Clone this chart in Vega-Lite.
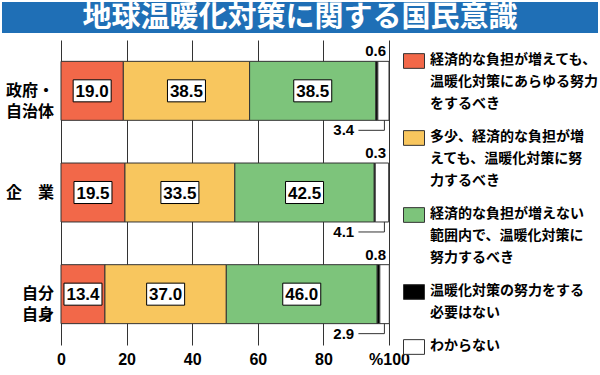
{
  "$schema": "https://vega.github.io/schema/vega-lite/v6.json",
  "padding": {"left": 2, "top": 2, "right": 0, "bottom": 2},
  "background": "white",
  "config": {"view": {"stroke": null}, "font": "Noto Sans CJK JP"},
  "datasets": {
    "shares": [
      {"row": "政府・|自治体", "cat": "経済的な負担が増えても、|温暖化対策にあらゆる努力|をするべき", "k": 1, "v": 19.0},
      {"row": "政府・|自治体", "cat": "多少、経済的な負担が増|えても、温暖化対策に努|力するべき", "k": 2, "v": 38.5},
      {"row": "政府・|自治体", "cat": "経済的な負担が増えない|範囲内で、温暖化対策に|努力するべき", "k": 3, "v": 38.5},
      {"row": "政府・|自治体", "cat": "温暖化対策の努力をする|必要はない", "k": 4, "v": 0.6},
      {"row": "政府・|自治体", "cat": "わからない", "k": 5, "v": 3.4},
      {"row": "企　業", "cat": "経済的な負担が増えても、|温暖化対策にあらゆる努力|をするべき", "k": 1, "v": 19.5},
      {"row": "企　業", "cat": "多少、経済的な負担が増|えても、温暖化対策に努|力するべき", "k": 2, "v": 33.5},
      {"row": "企　業", "cat": "経済的な負担が増えない|範囲内で、温暖化対策に|努力するべき", "k": 3, "v": 42.5},
      {"row": "企　業", "cat": "温暖化対策の努力をする|必要はない", "k": 4, "v": 0.3},
      {"row": "企　業", "cat": "わからない", "k": 5, "v": 4.1},
      {"row": "自分|自身", "cat": "経済的な負担が増えても、|温暖化対策にあらゆる努力|をするべき", "k": 1, "v": 13.4},
      {"row": "自分|自身", "cat": "多少、経済的な負担が増|えても、温暖化対策に努|力するべき", "k": 2, "v": 37.0},
      {"row": "自分|自身", "cat": "経済的な負担が増えない|範囲内で、温暖化対策に|努力するべき", "k": 3, "v": 46.0},
      {"row": "自分|自身", "cat": "温暖化対策の努力をする|必要はない", "k": 4, "v": 0.8},
      {"row": "自分|自身", "cat": "わからない", "k": 5, "v": 2.9}
    ]
  },
  "spacing": 7,
  "resolve": {"scale": {"color": "independent"}, "legend": {"color": "independent"}},
  "vconcat": [
    {
      "width": 596,
      "height": 31,
      "view": {"fill": "#1f6fb6", "stroke": null},
      "data": {"values": [{"t": "地球温暖化対策に関する国民意識"}]},
      "mark": {"type": "text", "font": "Noto Sans CJK JP", "fontWeight": "bold", "fontSize": 29, "color": "white", "baseline": "middle", "align": "center"},
      "encoding": {"text": {"field": "t", "type": "nominal"}}
    },
    {
      "spacing": 0,
      "bounds": "flush",
      "resolve": {"scale": {"color": "independent"}, "legend": {"color": "independent"}},
      "hconcat": [
        {
          "width": 59,
          "height": 305,
          "data": {"name": "shares"},
          "transform": [{"filter": "datum.k == 1"}],
          "mark": {"type": "text", "align": "right", "baseline": "middle", "dx": -7, "font": "Noto Sans CJK JP", "fontWeight": "bold", "fontSize": 16, "lineHeight": 21, "lineBreak": "|", "color": "black"},
          "encoding": {
            "x": {"value": "width"},
            "y": {
              "field": "row", "type": "nominal",
              "sort": ["政府・|自治体", "企　業", "自分|自身"],
              "scale": {"paddingInner": 0.42, "paddingOuter": 0.21},
              "axis": null
            },
            "text": {"field": "row", "type": "nominal"}
          }
        },
        {
          "width": 328,
          "height": 305,
          "data": {"name": "shares"},
          "encoding": {
            "y": {
              "field": "row", "type": "nominal",
              "sort": ["政府・|自治体", "企　業", "自分|自身"],
              "scale": {"paddingInner": 0.42, "paddingOuter": 0.21},
              "axis": null
            }
          },
          "layer": [
            {
              "mark": {"type": "bar", "stroke": "#333", "strokeWidth": 1},
              "encoding": {
                "x": {
                  "field": "v", "type": "quantitative", "stack": "zero",
                  "scale": {"domain": [0, 100], "nice": false},
                  "axis": {
                    "title": null, "values": [0, 20, 40, 60, 80, 100],
                    "grid": true, "gridColor": "#333", "gridOpacity": 1, "gridWidth": 1,
                    "domain": false, "ticks": false, "labelFlush": false,
                    "labelFont": "Liberation Sans", "labelFontWeight": "bold", "labelFontSize": 16,
                    "labelColor": "black", "labelPadding": 6,
                    "labelExpr": "datum.value == 100 ? '%100\u2002\u2002' : datum.label"
                  }
                },
                "color": {
                  "field": "cat", "type": "nominal",
                  "scale": {
                    "domain": [
                      "経済的な負担が増えても、|温暖化対策にあらゆる努力|をするべき",
                      "多少、経済的な負担が増|えても、温暖化対策に努|力するべき",
                      "経済的な負担が増えない|範囲内で、温暖化対策に|努力するべき",
                      "温暖化対策の努力をする|必要はない",
                      "わからない"
                    ],
                    "range": ["#F26849", "#F8C65E", "#7DC47B", "#000000", "#ffffff"]
                  },
                  "legend": {
                    "title": null, "orient": "right", "offset": 4, "padding": 10, "rowPadding": 16,
                    "labelFont": "Noto Sans CJK JP", "labelFontWeight": "bold", "labelFontSize": 14,
                    "labelColor": "black", "labelLimit": 0, "labelOffset": 5, "labelBaseline": "top",
                    "labelExpr": "split(datum.label, '|')",
                    "symbolType": "M-1,-0.7L1,-0.7L1,0.7L-1,0.7Z", "symbolSize": 441,
                    "symbolStrokeColor": "#333", "symbolStrokeWidth": 1, "symbolOpacity": 1,
                    "encode": {"labels": {"update": {"dy": {"value": -8}, "lineHeight": {"value": 22}}}}
                  }
                },
                "order": {"field": "k", "type": "quantitative"}
              }
            },
            {
              "transform": [{"filter": "datum.k <= 3"}],
              "mark": {"type": "point", "shape": "M-1,-0.58L1,-0.58L1,0.58L-1,0.58Z", "size": 1444, "filled": true, "fill": "white", "stroke": "black", "strokeWidth": 1, "opacity": 1, "fillOpacity": 1, "strokeOpacity": 1},
              "encoding": {
                "x": {"field": "v", "type": "quantitative", "stack": "zero", "bandPosition": 0.5},
                "detail": {"field": "cat", "type": "nominal"},
                "order": {"field": "k", "type": "quantitative"}
              }
            },
            {
              "transform": [{"filter": "datum.k <= 3"}],
              "mark": {"type": "text", "font": "Liberation Sans", "fontWeight": "bold", "fontSize": 17, "color": "black", "baseline": "middle", "dy": 1},
              "encoding": {
                "x": {"field": "v", "type": "quantitative", "stack": "zero", "bandPosition": 0.5},
                "detail": {"field": "cat", "type": "nominal"},
                "order": {"field": "k", "type": "quantitative"},
                "text": {"field": "v", "type": "quantitative", "format": ".1f"}
              }
            },
            {
              "transform": [{"filter": "datum.k == 4"}],
              "mark": {"type": "text", "font": "Liberation Sans", "fontWeight": "bold", "fontSize": 15, "color": "black", "align": "right", "baseline": "bottom", "dx": -3, "dy": -2},
              "encoding": {
                "x": {"datum": 100, "type": "quantitative"},
                "y": {"field": "row", "type": "nominal", "sort": ["政府・|自治体", "企　業", "自分|自身"], "bandPosition": 0},
                "text": {"field": "v", "type": "quantitative", "format": ".1f"}
              }
            },
            {
              "transform": [{"filter": "datum.k == 5"}],
              "mark": {"type": "text", "font": "Liberation Sans", "fontWeight": "bold", "fontSize": 15, "color": "black", "align": "right", "baseline": "middle", "dx": -2, "dy": 10},
              "encoding": {
                "x": {"datum": 90, "type": "quantitative"},
                "y": {"field": "row", "type": "nominal", "sort": ["政府・|自治体", "企　業", "自分|自身"], "bandPosition": 1},
                "text": {"field": "v", "type": "quantitative", "format": ".1f"}
              }
            },
            {
              "transform": [{"filter": "datum.k == 5"}],
              "mark": {"type": "point", "shape": "M-2.6,0.5L0,0.5L0,-0.5", "size": 400, "filled": false, "fill": null, "stroke": "#333", "strokeWidth": 1, "opacity": 1, "strokeOpacity": 1, "yOffset": 5},
              "encoding": {
                "x": {"datum": 98.6, "type": "quantitative"},
                "y": {"field": "row", "type": "nominal", "sort": ["政府・|自治体", "企　業", "自分|自身"], "bandPosition": 1}
              }
            }
          ]
        }
      ]
    }
  ]
}
